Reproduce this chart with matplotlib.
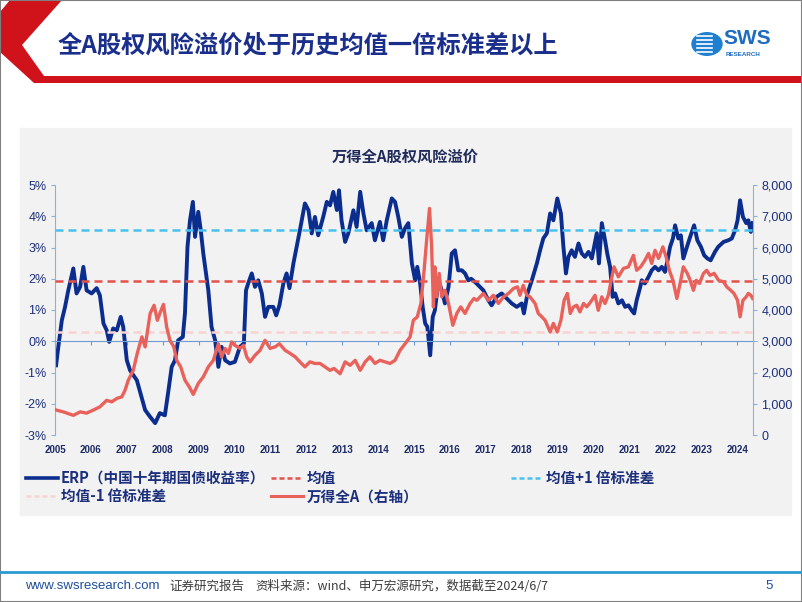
import matplotlib.pyplot as plt
from matplotlib.patches import Polygon, Rectangle, Circle
from matplotlib.lines import Line2D
from matplotlib.ticker import FuncFormatter

# ERP (%), dates as decimal years
erp_t = [2005.03, 2005.09, 2005.19, 2005.28, 2005.37, 2005.51, 2005.60, 2005.70, 2005.79, 2005.88,
         2006.02, 2006.16, 2006.25, 2006.35, 2006.44, 2006.51, 2006.62, 2006.72, 2006.83, 2006.90,
         2007.00, 2007.09, 2007.28, 2007.41, 2007.51, 2007.65, 2007.79, 2007.92, 2008.06, 2008.16,
         2008.25, 2008.34, 2008.43, 2008.56, 2008.62, 2008.69, 2008.76, 2008.84, 2008.90, 2008.99,
         2009.06, 2009.13, 2009.18, 2009.27, 2009.36, 2009.46, 2009.55, 2009.64, 2009.74, 2009.87,
         2010.01, 2010.15, 2010.26, 2010.32, 2010.38, 2010.48, 2010.57, 2010.66, 2010.76, 2010.85,
         2010.94, 2011.08, 2011.16, 2011.25, 2011.36, 2011.45, 2011.53, 2011.64, 2011.73, 2011.82,
         2011.96, 2012.06, 2012.15, 2012.24, 2012.33, 2012.47, 2012.57, 2012.66, 2012.75, 2012.85,
         2012.91, 2012.98, 2013.08, 2013.17, 2013.31, 2013.40, 2013.50, 2013.59, 2013.68, 2013.82,
         2013.91, 2014.05, 2014.14, 2014.24, 2014.38, 2014.47, 2014.56, 2014.66, 2014.75, 2014.84,
         2014.94, 2015.03, 2015.09, 2015.17, 2015.24, 2015.31, 2015.37, 2015.45, 2015.52, 2015.58,
         2015.68, 2015.77, 2015.86, 2015.96, 2016.05, 2016.14, 2016.23, 2016.33, 2016.42, 2016.51,
         2016.59, 2016.74, 2016.93, 2017.07, 2017.16, 2017.30, 2017.44, 2017.58, 2017.72, 2017.86,
         2018.00, 2018.06, 2018.16, 2018.28, 2018.42, 2018.51, 2018.60, 2018.70, 2018.79, 2018.88,
         2018.99, 2019.09, 2019.16, 2019.23, 2019.30, 2019.39, 2019.48, 2019.58, 2019.67, 2019.76,
         2019.86, 2019.95, 2020.09, 2020.15, 2020.23, 2020.32, 2020.38, 2020.46, 2020.53, 2020.60,
         2020.69, 2020.79, 2020.88, 2020.97, 2021.06, 2021.13, 2021.20, 2021.30, 2021.34, 2021.43,
         2021.53, 2021.62, 2021.71, 2021.81, 2021.90, 2021.99, 2022.06, 2022.13, 2022.21, 2022.27,
         2022.36, 2022.43, 2022.50, 2022.60, 2022.69, 2022.80, 2022.89, 2022.99, 2023.08, 2023.17,
         2023.26, 2023.38, 2023.47, 2023.62, 2023.75, 2023.85, 2023.94, 2024.01, 2024.08, 2024.16,
         2024.25, 2024.31, 2024.38, 2024.43]
erp_v = [-0.77, -0.20, 0.67, 1.10, 1.63, 2.33, 1.53, 1.74, 2.38, 1.63,
         1.53, 1.70, 1.47, 0.57, 0.35, -0.02, 0.41, 0.35, 0.78, 0.46,
         -0.61, -0.93, -1.25, -1.78, -2.20, -2.42, -2.62, -2.30, -2.37, -1.57,
         -0.82, -0.61, 0.03, 0.14, 0.90, 3.02, 3.87, 4.46, 3.34, 4.14,
         3.55, 2.81, 2.38, 1.63, 0.46, 0.03, -0.82, -0.18, -0.61, -0.71,
         -0.66, -0.18, -0.07, 1.63, 1.85, 2.17, 1.74, 1.95, 1.53, 0.78,
         1.10, 1.10, 0.83, 1.15, 1.85, 2.17, 1.70, 2.49, 3.02, 3.55,
         4.41, 4.19, 3.45, 3.98, 3.39, 3.98, 4.46, 4.35, 4.78, 4.20,
         4.83, 3.87, 3.18, 3.46, 4.19, 3.66, 4.78, 4.09, 3.55, 3.78,
         3.23, 3.82, 3.23, 3.87, 4.57, 4.46, 3.98, 3.34, 3.62, 3.78,
         2.49, 1.95, 2.38, 1.85, 1.10, 0.57, 0.46, -0.45, 0.78, 0.99,
         1.95, 1.63, 1.21, 1.74, 2.81, 2.91, 2.27, 2.27, 2.17, 1.95,
         2.00, 1.85, 1.63, 1.31, 1.15, 1.42, 1.53, 1.37, 1.21, 1.10,
         1.21, 0.89, 1.53, 1.95, 2.49, 2.91, 3.29, 3.46, 4.09, 3.87,
         4.57, 4.09, 3.02, 2.17, 2.70, 2.91, 2.70, 3.13, 2.81, 2.70,
         2.86, 2.65, 3.46, 2.49, 3.78, 3.23, 2.81, 2.38, 1.42, 1.53,
         1.21, 1.31, 1.10, 1.15, 0.99, 0.89, 1.31, 1.74, 1.95, 1.85,
         2.06, 2.27, 2.38, 2.27, 2.38, 2.22, 2.59, 3.02, 3.29, 3.71,
         3.29, 3.39, 2.65, 3.02, 3.34, 3.71, 3.23, 3.02, 2.75, 2.65,
         2.59, 2.86, 3.02, 3.18, 3.23, 3.29, 3.55, 3.87, 4.51, 3.98,
         3.78, 3.87, 3.50, 3.78]

# Wind All A index (right axis)
wind_t = [2005.03, 2005.23, 2005.51, 2005.70, 2005.88, 2006.07, 2006.25, 2006.44, 2006.58, 2006.72,
          2006.86, 2006.95, 2007.04, 2007.18, 2007.29, 2007.42, 2007.51, 2007.65, 2007.76, 2007.85,
          2007.92, 2008.02, 2008.11, 2008.20, 2008.31, 2008.39, 2008.50, 2008.62, 2008.74, 2008.85,
          2008.99, 2009.13, 2009.27, 2009.41, 2009.55, 2009.64, 2009.74, 2009.83, 2009.92, 2010.01,
          2010.15, 2010.25, 2010.34, 2010.43, 2010.57, 2010.71, 2010.85, 2010.99, 2011.13, 2011.25,
          2011.41, 2011.55, 2011.69, 2011.82, 2011.96, 2012.10, 2012.24, 2012.38, 2012.52, 2012.66,
          2012.77, 2012.94, 2013.08, 2013.22, 2013.36, 2013.50, 2013.64, 2013.77, 2013.91, 2014.05,
          2014.19, 2014.33, 2014.47, 2014.61, 2014.75, 2014.89, 2014.98, 2015.09, 2015.19, 2015.28,
          2015.35, 2015.43, 2015.49, 2015.54, 2015.58, 2015.63, 2015.70, 2015.77, 2015.86, 2015.96,
          2016.08, 2016.19, 2016.30, 2016.42, 2016.56, 2016.67, 2016.75, 2016.93, 2017.07, 2017.21,
          2017.35, 2017.49, 2017.63, 2017.77, 2017.88, 2017.95, 2018.04, 2018.14, 2018.23, 2018.37,
          2018.46, 2018.56, 2018.65, 2018.79, 2018.88, 2018.99, 2019.09, 2019.18, 2019.27, 2019.35,
          2019.44, 2019.53, 2019.62, 2019.72, 2019.81, 2019.92, 2020.04, 2020.13, 2020.23, 2020.32,
          2020.41, 2020.51, 2020.57, 2020.69, 2020.83, 2020.97, 2021.11, 2021.20, 2021.31, 2021.43,
          2021.53, 2021.62, 2021.71, 2021.81, 2021.93, 2022.02, 2022.11, 2022.21, 2022.32, 2022.41,
          2022.50, 2022.61, 2022.69, 2022.78, 2022.86, 2022.95, 2023.06, 2023.15, 2023.24, 2023.36,
          2023.48, 2023.62, 2023.71, 2023.82, 2023.91, 2024.01, 2024.08, 2024.16, 2024.25, 2024.31,
          2024.38, 2024.43]
wind_v = [800, 740, 630, 740, 700, 800, 900, 1110, 1060, 1170,
          1220, 1430, 1750, 2070, 2610, 3140, 2820, 3890, 4150, 3670,
          3890, 4180, 3460, 3030, 2820, 2390, 2180, 1750, 1540, 1300,
          1650, 1860, 2180, 2390, 2920, 2500, 2770, 2610, 2980, 2870,
          2770, 2870, 2500, 2340, 2550, 2710, 3030, 2770, 2820, 2920,
          2710, 2610, 2500, 2340, 2180, 2340, 2290, 2290, 2180, 2070,
          2130, 1960, 2340, 2230, 2390, 2070, 2340, 2500, 2290, 2390,
          2340, 2290, 2390, 2710, 2920, 3140, 3670, 3780, 4210, 5270,
          6230, 7250, 6020, 4100, 5380, 4420, 5170, 4420, 4630, 4210,
          3510, 3890, 4100, 3890, 4210, 4370, 4310, 4530, 4310, 4470,
          4210, 4420, 4530, 4690, 4740, 4470, 4790, 4470, 4420, 4210,
          3890, 3780, 3670, 3300, 3570, 3300, 3670, 4310, 4530, 3890,
          4100, 4150, 3940, 4210, 4100, 4260, 4470, 3990, 4420, 4210,
          4470, 5060, 5380, 5060, 5330, 5380, 5750, 5270, 5380, 5590,
          5810, 5490, 5910, 5650, 6020, 5700, 5270, 4950, 4370, 4850,
          5380, 5170, 4950, 4630, 4950, 4850, 5170, 5270, 5110, 5170,
          4950, 4900, 4740, 4630, 4530, 4310, 3780, 4310, 4420, 4530,
          4470, 4370]

erp_mean = 1.92
erp_plus = 3.55
erp_minus = 0.29

years = list(range(2005, 2025))

BLUE = '#0b2d8e'
RED = '#e8615b'
NAVY = '#1c2f7c'
AXC = '#8db1dd'

plt.rcParams['font.family'] = ['Noto Sans CJK SC', 'DejaVu Sans']

W, H = 802, 602
def fx(x):
    return x / W
def fy(y):
    return 1 - y / H

fig = plt.figure(figsize=(8.02, 6.02), dpi=100)
fig.patch.set_facecolor('white')

# chart panel
fig.add_artist(Rectangle((fx(20), fy(515)), fx(791) - fx(20), fy(128) - fy(515),
                         transform=fig.transFigure, color='#f2f2f2', zorder=-1))

# header: red chevron + band
fig.add_artist(Polygon([(fx(10), fy(0)), (fx(62), fy(0)), (fx(22), fy(45)), (fx(44), fy(76)),
                        (fx(802), fy(76)), (fx(802), fy(83)), (fx(34), fy(83)), (fx(0), fy(52)),
                        (fx(0), fy(12))],
                       closed=True, transform=fig.transFigure, color='#d0121b', lw=0))
fig.text(fx(58), fy(45), '全A股权风险溢价处于历史均值一倍标准差以上', fontsize=17.5,
         fontweight='bold', color='#1a2e8c', va='center', ha='left')

# logo
fig.add_artist(Circle((fx(707), fy(44)), 15 / W, transform=fig.transFigure, color='#1e7fd0'))
for yy in [36, 40, 44, 48, 52]:
    fig.add_artist(Line2D([fx(697), fx(712)], [fy(yy), fy(yy)], color='white', lw=1.2))
fig.text(fx(723), fy(39), 'SWS', fontsize=15, fontweight='bold', color='#1e6bc0',
         va='center', ha='left', family='Liberation Sans')
fig.text(fx(726), fy(55), 'RESEARCH', fontsize=4.5, fontweight='bold', color='#1e6bc0',
         va='center', ha='left', family='Liberation Sans')

# chart title
fig.text(fx(405), fy(157), '万得全A股权风险溢价', fontsize=11, fontweight='bold',
         color='#1f2a5a', ha='center', va='center')

ax = fig.add_axes([fx(55), fy(435), fx(753) - fx(55), fy(185) - fy(435)])
ax.patch.set_alpha(0)
ax.plot(erp_t, erp_v, color=BLUE, lw=2.8, zorder=2)
ax.axhline(erp_mean, color='#e4504a', lw=1.8, ls=(0, (3.2, 2)), zorder=3)
ax.axhline(erp_plus, color='#49c1ef', lw=1.8, ls=(0, (3.2, 2)), zorder=3)
ax.axhline(erp_minus, color='#f8d3d1', lw=1.8, ls=(0, (3.2, 2)), zorder=3)
ax.set_xlim(2005, 2024.44)
ax.set_ylim(-3, 5)
ax.set_yticks(range(-3, 6))
ax.yaxis.set_major_formatter(FuncFormatter(lambda v, p: f'{v:.0f}%'))
for s in ['top', 'right']:
    ax.spines[s].set_visible(False)
ax.spines['left'].set_color(AXC)
ax.spines['bottom'].set_position(('data', 0))
ax.spines['bottom'].set_color('#6f9bd2')
ax.set_xticks(years)
ax.tick_params(axis='x', direction='out', length=3, color='#6f9bd2', labelbottom=False)
ax.tick_params(axis='y', direction='out', length=3, color=AXC, labelcolor=NAVY,
               labelsize=9, pad=3)
for lb in ax.get_yticklabels():
    lb.set_family('Liberation Sans')

sec = ax.secondary_xaxis('bottom')
sec.set_xticks(years, [str(y) for y in years], fontweight='bold', fontsize=7,
               color='#1c2a66', family='Liberation Sans')
sec.tick_params(length=0, pad=7)
sec.spines['bottom'].set_visible(False)

ax2 = ax.twinx()
ax2.plot(wind_t, wind_v, color=RED, lw=2.4, zorder=2)
ax2.set_ylim(0, 8000)
ax2.set_yticks(range(0, 8001, 1000))
ax2.yaxis.set_major_formatter(FuncFormatter(lambda v, p: f'{v:,.0f}'))
for s in ['top', 'left', 'bottom']:
    ax2.spines[s].set_visible(False)
ax2.spines['right'].set_color(AXC)
ax2.tick_params(axis='y', direction='out', length=3, color=AXC, labelcolor=NAVY,
                labelsize=9, pad=3)
for lb in ax2.get_yticklabels():
    lb.set_family('Liberation Sans')

# legend
h_erp = Line2D([], [], color=BLUE, lw=2.6)
h_mean = Line2D([], [], color='#e4504a', lw=1.8, ls=(0, (2, 1.2)))
h_plus = Line2D([], [], color='#49c1ef', lw=1.8, ls=(0, (2, 1.2)))
h_minus = Line2D([], [], color='#f8d3d1', lw=1.8, ls=(0, (2, 1.2)))
h_wind = Line2D([], [], color=RED, lw=2.2)
lkw = dict(loc='upper left', frameon=False, prop=dict(weight='bold', size=10.5),
           labelcolor=NAVY, handlelength=2.2, handletextpad=0.2, borderpad=0,
           borderaxespad=0, labelspacing=0.15)
fig.legend([h_erp, h_minus, h_mean, h_wind],
           ['ERP（中国十年期国债收益率）', '均值-1 倍标准差', '均值', '万得全A（右轴）'],
           ncol=2, columnspacing=0.4, bbox_to_anchor=(fx(26), fy(470)), **lkw)
fig.legend([h_plus], ['均值+1 倍标准差'], bbox_to_anchor=(fx(511), fy(470)), **lkw)

# footer
fig.add_artist(Line2D([0, 1], [fy(572), fy(572)], color='#2a9bd1', lw=2))
fig.text(fx(25), fy(586), 'www.swsresearch.com', fontsize=9.5, color='#1f4e9c',
         va='center', ha='left', family='Liberation Sans')
fig.text(fx(169), fy(586), '证券研究报告', fontsize=9, color='#3c3c3c', va='center', ha='left')
fig.text(fx(255), fy(586), '资料来源：wind、申万宏源研究，数据截至2024/6/7', fontsize=9,
         color='#3c3c3c', va='center', ha='left')
fig.text(fx(765), fy(586), '5', fontsize=9.5, color='#1f4e9c', va='center', ha='left',
         family='Liberation Sans')

fig.add_artist(Rectangle((0, 0), 1, 1, transform=fig.transFigure, fill=False,
                         edgecolor='#7f7f7f', lw=1.5))

fig.savefig('out.png', dpi=100)
